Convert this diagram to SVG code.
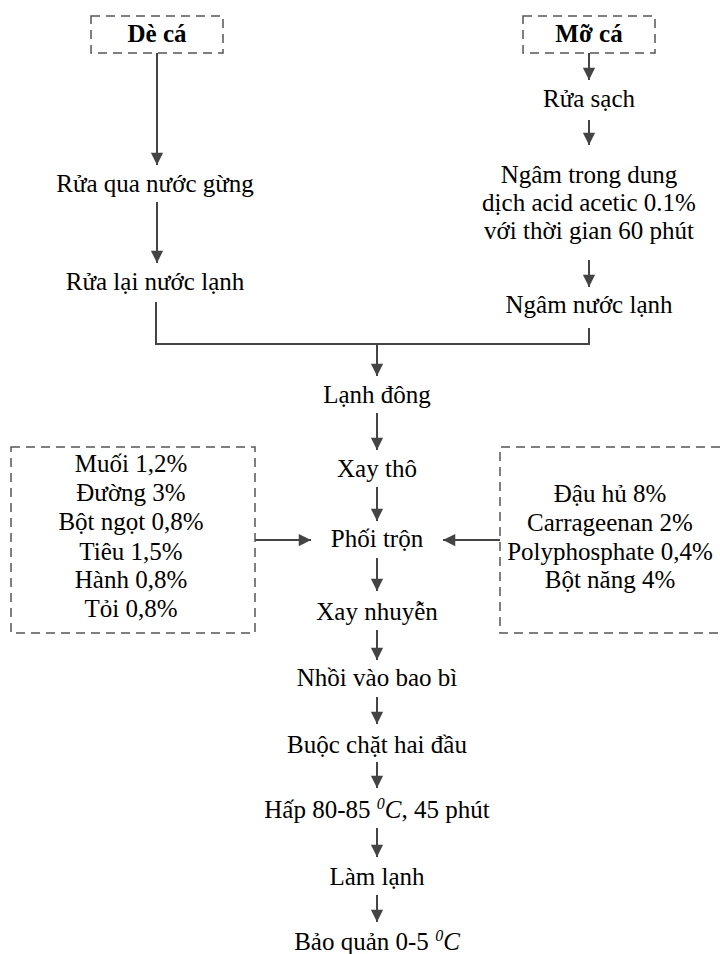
<svg xmlns="http://www.w3.org/2000/svg" width="720" height="954" viewBox="0 0 720 954">
<style>
text{font-family:"Liberation Serif","Times New Roman",serif;font-size:25px;fill:#000;text-anchor:middle}
.b{font-weight:bold}
.box{fill:none;stroke:#555;stroke-width:1.5;stroke-dasharray:9,6}
.ln{fill:none;stroke:#444;stroke-width:2}
.i{font-style:italic}
</style>
<defs>
<marker id="ar" viewBox="0 0 14 16" refX="14" refY="8" markerWidth="14" markerHeight="14" markerUnits="userSpaceOnUse" orient="auto">
<path d="M0,1 L14,8 L0,15 Z" fill="#444"/>
</marker>
</defs>
<rect width="720" height="954" fill="#fff"/>
<g id="connectors">
<line class="ln" x1="157" y1="53" x2="157" y2="165" marker-end="url(#ar)"/>
<line class="ln" x1="157" y1="202" x2="157" y2="263" marker-end="url(#ar)"/>
<polyline class="ln" points="156,302 156,344 589,344 589,328"/>
<line class="ln" x1="377" y1="344" x2="377" y2="376" marker-end="url(#ar)"/>
<line class="ln" x1="589" y1="53" x2="589" y2="80" marker-end="url(#ar)"/>
<line class="ln" x1="589" y1="120" x2="589" y2="145" marker-end="url(#ar)"/>
<line class="ln" x1="589" y1="260" x2="589" y2="287" marker-end="url(#ar)"/>
<line class="ln" x1="377" y1="413" x2="377" y2="450" marker-end="url(#ar)"/>
<line class="ln" x1="377" y1="487" x2="377" y2="521" marker-end="url(#ar)"/>
<line class="ln" x1="255" y1="540" x2="311" y2="540" marker-end="url(#ar)"/>
<line class="ln" x1="500" y1="540" x2="443" y2="540" marker-end="url(#ar)"/>
<line class="ln" x1="377" y1="558" x2="377" y2="591" marker-end="url(#ar)"/>
<line class="ln" x1="377" y1="630" x2="377" y2="660" marker-end="url(#ar)"/>
<line class="ln" x1="377" y1="697" x2="377" y2="724" marker-end="url(#ar)"/>
<line class="ln" x1="377" y1="762" x2="377" y2="788" marker-end="url(#ar)"/>
<line class="ln" x1="377" y1="828" x2="377" y2="857" marker-end="url(#ar)"/>
<line class="ln" x1="377" y1="895" x2="377" y2="922" marker-end="url(#ar)"/>
</g>
<g id="de-ca"><rect class="box" x="91" y="16" width="132" height="37"/><text class="b" x="157" y="42">Dè cá</text></g>
<g id="mo-ca"><rect class="box" x="523" y="16" width="132" height="37"/><text class="b" x="589" y="42">Mỡ cá</text></g>
<g id="rua-gung"><text x="155" y="192">Rửa qua nước gừng</text></g>
<g id="rua-lanh"><text x="155" y="290">Rửa lại nước lạnh</text></g>
<g id="rua-sach"><text x="589" y="107">Rửa sạch</text></g>
<g id="ngam-acid"><text x="589" y="183">Ngâm trong dung</text><text x="589" y="211">dịch acid acetic 0.1%</text><text x="589" y="239">với thời gian 60 phút</text></g>
<g id="ngam-lanh"><text x="589" y="313">Ngâm nước lạnh</text></g>
<g id="lanh-dong"><text x="377" y="403">Lạnh đông</text></g>
<g id="xay-tho"><text x="377" y="477">Xay thô</text></g>
<g id="phoi-tron"><text x="377" y="547">Phối trộn</text></g>
<g id="xay-nhuyen"><text x="377" y="620">Xay nhuyễn</text></g>
<g id="nhoi"><text x="377" y="686">Nhồi vào bao bì</text></g>
<g id="buoc"><text x="377" y="753">Buộc chặt hai đầu</text></g>
<g id="hap"><text x="377" y="818">Hấp 80-85 <tspan class="i" font-size="16" dy="-9">0</tspan><tspan class="i" dy="9">C</tspan>, 45 phút</text></g>
<g id="lam-lanh"><text x="377" y="885">Làm lạnh</text></g>
<g id="bao-quan"><text x="377" y="950">Bảo quản 0-5 <tspan class="i" font-size="16" dy="-9">0</tspan><tspan class="i" dy="9">C</tspan></text></g>
<g id="gia-vi"><rect class="box" x="11" y="447" width="244" height="186"/>
<text x="131" y="472">Muối 1,2%</text><text x="131" y="501">Đường 3%</text><text x="131" y="530">Bột ngọt 0,8%</text><text x="131" y="560">Tiêu 1,5%</text><text x="131" y="588">Hành 0,8%</text><text x="131" y="617">Tỏi 0,8%</text></g>
<g id="phu-gia"><path class="box" d="M720,447 H500 V633 H720"/>
<text x="610" y="502">Đậu hủ 8%</text><text x="610" y="531">Carrageenan 2%</text><text x="610" y="560">Polyphosphate 0,4%</text><text x="610" y="588">Bột năng 4%</text></g>
</svg>
